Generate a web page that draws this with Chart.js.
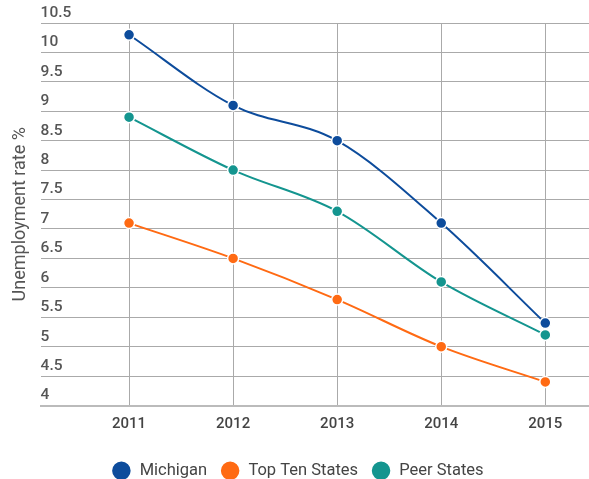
<!DOCTYPE html>
<html>
<head>
<meta charset="utf-8">
<script src="https://cdn.jsdelivr.net/npm/chart.js@4"></script>
<style>
  html, body { margin: 0; padding: 0; background: #fff; }
  #wrap { width: 589px; height: 479px; }
</style>
</head>
<body>
<div id="wrap"><canvas id="chart"></canvas></div>
<script>
const years = [2011, 2012, 2013, 2014, 2015];
const michigan = [10.3, 9.1, 8.5, 7.1, 5.4];
const topTen = [7.1, 6.5, 5.8, 5.0, 4.4];
const peer = [8.9, 8.0, 7.3, 6.1, 5.2];

const toPoints = (vals) => vals.map((v, i) => ({ x: years[i], y: v }));

const series = (label, vals, color) => ({
  label,
  data: toPoints(vals),
  borderColor: color,
  backgroundColor: color,
  pointBackgroundColor: color,
  pointBorderColor: "#fff",
  pointBorderWidth: 1.5,
  pointRadius: 5.5,
  borderWidth: 2,
  cubicInterpolationMode: "monotone",
  fill: false,
});

new Chart(document.getElementById("chart"), {
  type: "line",
  data: {
    datasets: [
      series("Michigan", michigan, "#0d4c9c"),
      series("Top Ten States", topTen, "#ff6a13"),
      series("Peer States", peer, "#14958f"),
    ],
  },
  options: {
    responsive: true,
    maintainAspectRatio: false,
    animation: false,
    layout: { autoPadding: false, padding: { top: 23, left: 6, right: 0, bottom: -10 } },
    plugins: {
      legend: {
        position: "bottom",
        labels: {
          usePointStyle: true,
          pointStyle: "circle",
          pointStyleWidth: 20,
          boxHeight: 14,
          padding: 13,
          color: "#444",
          font: { family: "Roboto", size: 16.5 },
        },
      },
      tooltip: { enabled: false },
    },
    scales: {
      x: {
        type: "linear",
        min: 2010.15,
        max: 2015.42,
        afterBuildTicks: (scale) => {
          scale.ticks = years.map((y) => ({ value: y }));
        },
        afterFit: (scale) => {
          scale.height += 6;
        },
        grid: { color: "#aaa", drawTicks: false },
        border: { color: "#bbb", width: 2 },
        ticks: {
          color: "#444",
          padding: 10,
          font: { family: "Roboto", size: 15, weight: "500" },
          callback: (v) => String(v),
        },
      },
      y: {
        min: 4,
        max: 10.5,
        grid: { color: "#aaa", drawTicks: false },
        border: { display: false },
        title: {
          display: true,
          text: "Unemployment rate %",
          color: "#555",
          padding: { top: 4, bottom: 9 },
          font: { family: "Roboto", size: 18 },
        },
        ticks: {
          stepSize: 0.5,
          mirror: true,
          labelOffset: -10,
          padding: 0,
          color: "#555",
          font: { family: "Roboto", size: 15.5, weight: "500" },
          callback: (v) => String(v),
        },
      },
    },
  },
});
</script>
</body>
</html>
